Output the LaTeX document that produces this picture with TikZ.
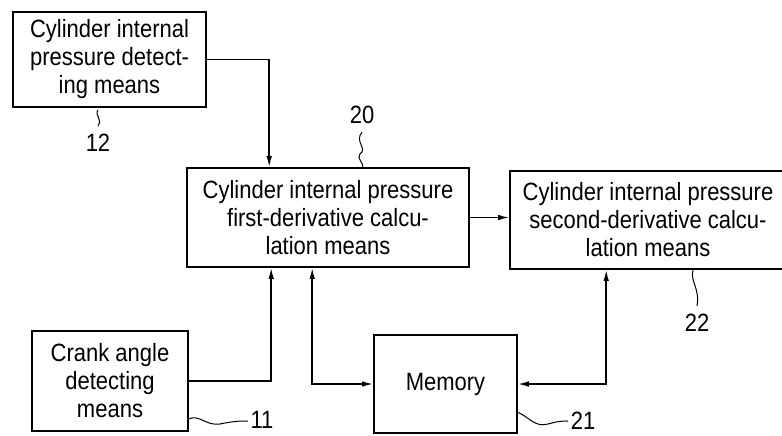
\documentclass[tikz,border=0pt]{standalone}
\usepackage{fontspec}
\setmainfont{Liberation Sans}[FakeStretch=0.88]
\usetikzlibrary{arrows.meta,calc}
\tikzset{
  blk/.style={draw, line width=1.6pt, rectangle, inner sep=0pt, align=center,
    font=\fontsize{25}{28}\selectfont},
  conn/.style={line width=1.5pt, -{Latex[length=11pt,width=5.5pt]}},
  biconn/.style={line width=1.5pt, {Latex[length=11pt,width=5.5pt]}-{Latex[length=11pt,width=5.5pt]}},
  lead/.style={line width=1pt},
  num/.style={font=\fontsize{25}{27}\selectfont, inner sep=1pt}
}
\begin{document}
\begin{tikzpicture}[x=1pt,y=-1pt]
\clip (0,0) rectangle (782,436);
\useasboundingbox (0,0) rectangle (782,436);
\fill[white] (0,0) rectangle (782,436);

\node[blk, minimum width=193pt, minimum height=95pt] (b12) at (109.5,59.5)
  {Cylinder internal\\pressure detect-\\ing means};
\node[blk, minimum width=282pt, minimum height=99pt] (b20) at (328,217.5)
  {Cylinder internal pressure\\first-derivative calcu-\\lation means};
\node[blk, minimum width=276pt, minimum height=98pt] (b22) at (648,220)
  {Cylinder internal pressure\\second-derivative calcu-\\lation means};
\node[blk, minimum width=143pt, minimum height=98pt] (mem) at (445.5,384)
  {Memory};
\node[blk, minimum width=156pt, minimum height=100pt] (crank) at (110,381)
  {Crank angle\\detecting\\means};

% connectors
\draw[conn] (b12.east) -| ($(b20.north west)+(83,0)$);
\draw[conn] (crank.east) -| ($(b20.south west)+(85,0)$);
\draw[biconn] ($(b20.south west)+(126,0)$) |- (mem.west);
\draw[biconn] ($(b22.south west)+(97,0)$) |- (mem.east);
\draw[conn] (b20.east) -- (b20.east -| b22.west);

% reference numerals
\node[num] (n12) at (98,143) {12};
\draw[lead] (98,110) .. controls (94,116) and (103,118) .. (98,126);
\node[num] (n20) at (362,115) {20};
\draw[lead] (362,132) .. controls (354,142) and (368,148) .. (360,154) .. controls (356,158) and (364,163) .. (363,168);
\node[num] (n22) at (697,323) {22};
\draw[lead] (693,270) .. controls (690,282) and (700,288) .. (697,306);
\node[num] (n11) at (262,420) {11};
\draw[lead] (188,419) .. controls (200,414) and (205,426) .. (220,424) .. controls (230,422) and (235,421) .. (248,421);
\node[num] (n21) at (583,421) {21};
\draw[lead] (517,412) .. controls (528,416) and (535,428) .. (548,424) .. controls (555,422) and (560,421) .. (568,421);
\end{tikzpicture}
\end{document}
